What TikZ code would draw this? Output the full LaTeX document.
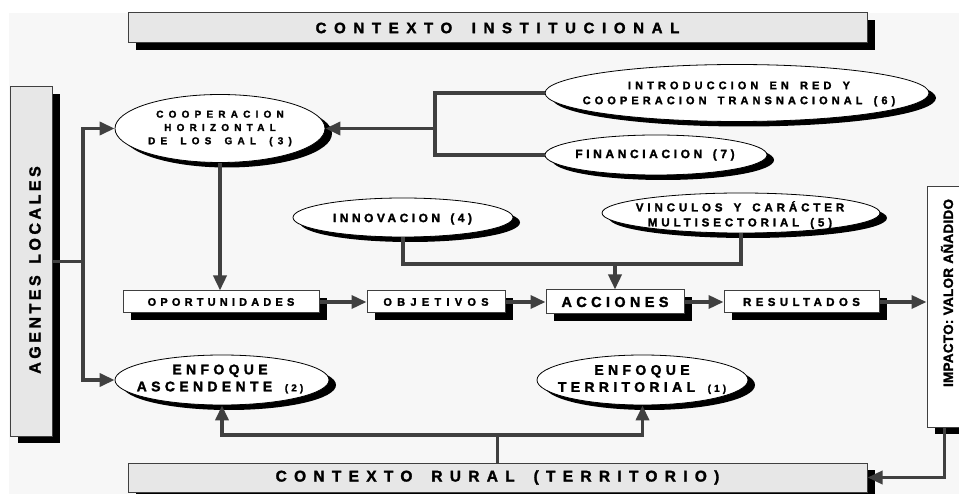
\documentclass[tikz,border=0pt]{standalone}
\usepackage{fontspec}
\setmainfont{Liberation Sans}
\usetikzlibrary{shapes.geometric,shadows,arrows.meta}

\definecolor{paper}{RGB}{247,247,247}
\definecolor{panel}{RGB}{231,231,231}
\definecolor{wire}{RGB}{64,64,64}

% heavy, sized and letter spaced text (word space grows with the letter space)
\newcommand\tracked[3]{\bfseries\fontsize{#1}{#2}\selectfont
  \addfontfeature{LetterSpace=#3,FakeBold=1.8}%
  \spaceskip=\dimexpr\fontdimen2\font+\fontdimen6\font*#3/100\relax}

\tikzset{
  shade box/.style={drop shadow={shadow xshift=8pt,shadow yshift=-7pt,fill=black,opacity=1}},
  panel box/.style={shade box,draw=wire,line width=1pt,fill=panel,inner sep=0pt},
  stage box/.style={shade box,draw=wire,line width=1pt,fill=white,inner sep=0pt,minimum height=22pt},
  bubble/.style={ellipse,draw=black,line width=0.8pt,fill=white,inner sep=0pt,
    drop shadow={shadow xshift=7pt,shadow yshift=-5pt,fill=black,opacity=1}},
  conn/.style={draw=wire,line width=3.5pt},
  conn arrow/.style={conn,-{Triangle[length=15pt,width=13pt]}},
}

\begin{document}
\begin{tikzpicture}[x=1pt,y=-1pt]

\useasboundingbox (0,0) rectangle (959,494);
\fill[paper] (9,13) rectangle (959,494);

% frames round the scheme
\node[panel box,minimum width=739pt,minimum height=30pt,font=\tracked{15}{18}{51}] (inst) at (497.5,28) {CONTEXTO INSTITUCIONAL};
\node[panel box,minimum width=739pt,minimum height=29pt,font=\tracked{15.5}{18}{47}] (rural) at (497.5,477.5) {CONTEXTO RURAL (TERRITORIO)};

\node[panel box,minimum width=42pt,minimum height=349pt] (agentes) at (31,261.5) {};
\node[font=\tracked{16}{18}{22},rotate=90] (agentes-t) at (35,270) {AGENTES LOCALES};

\node[stage box,minimum width=35pt,minimum height=240pt] (impacto) at (944.5,307) {};
\node[font=\tracked{13.5}{16}{2},rotate=90] (impacto-t) at (947,293) {IMPACTO: VALOR AÑADIDO};

% the chain
\node[stage box,minimum width=196pt,font=\tracked{11}{13}{38}] (oport) at (221,302) {OPORTUNIDADES};
\node[stage box,minimum width=138pt,font=\tracked{11}{13}{48}] (objet) at (436,302) {OBJETIVOS};
\node[stage box,minimum width=138pt,minimum height=24pt,font=\tracked{14.5}{16}{30}] (accion) at (615,302) {ACCIONES};
\node[stage box,minimum width=155pt,font=\tracked{11.5}{13}{38}] (result) at (801.5,302) {RESULTADOS};

% the seven features
\node[bubble,minimum width=210pt,minimum height=68pt] (coop) at (220,128.5) {};
\node[font=\tracked{10}{13.3}{52},align=center] (coop-t) at (220,128.5) {COOPERACION\\HORIZONTAL\\DE LOS GAL (3)};

\node[bubble,minimum width=384pt,minimum height=57pt] (intro) at (737,93) {};
\node[font=\tracked{11}{15}{37},align=center] (intro-t) at (739,94) {INTRODUCCION EN RED Y\\COOPERACION TRANSNACIONAL (6)};

\node[bubble,minimum width=222pt,minimum height=40pt] (finan) at (656,155) {};
\node[font=\tracked{12}{14}{30}] (finan-t) at (655,155) {FINANCIACION (7)};

\node[bubble,minimum width=220pt,minimum height=39pt] (innov) at (403,217.5) {};
\node[font=\tracked{12}{14}{29}] (innov-t) at (402.5,219) {INNOVACION (4)};

\node[bubble,minimum width=278pt,minimum height=40pt] (vinc) at (741,213) {};
\node[font=\tracked{11.5}{15}{34},align=center] (vinc-t) at (740,215) {VINCULOS Y CARÁCTER\\MULTISECTORIAL (5)};

\node[bubble,minimum width=214pt,minimum height=50pt] (asc) at (222,380) {};
\node[font=\tracked{14}{17}{31},align=center] (asc-t) at (220,379) {ENFOQUE\\ASCENDENTE {\fontsize{10}{17}\selectfont(2)}};

\node[bubble,minimum width=211pt,minimum height=50pt] (terr) at (642.5,380) {};
\node[font=\tracked{14}{17}{31},align=center] (terr-t) at (642,379.5) {ENFOQUE\\TERRITORIAL {\fontsize{10}{17}\selectfont(1)}};

% junctions
\coordinate (trunk) at (83,261.5);
\coordinate (hub) at (435,128.5);
\coordinate (merge) at (615,264);
\coordinate (split) at (497.5,435);

% connectors
\draw[conn] (agentes.east) -- (trunk);
\draw[conn arrow] (trunk) |- (coop.west);
\draw[conn arrow] (trunk) |- (asc.west);

\draw[conn] (intro.west) -| (hub);
\draw[conn] (finan.west) -| (hub);
\draw[conn arrow] (hub) -- (coop.east);

\draw[conn arrow] (coop.south) -- (coop.south |- oport.north);
\draw[conn] (innov.south) |- (merge);
\draw[conn] (vinc.south) |- (merge);
\draw[conn arrow] (merge) -- (accion.north);

\draw[conn arrow] (oport) -- (objet);
\draw[conn arrow] (objet) -- (accion);
\draw[conn arrow] (accion) -- (result);
\draw[conn arrow] (result.east) -- (result.east -| impacto.west);

\draw[conn arrow] (impacto.south) |- (rural.east);
\draw[conn] (rural.north) -- (split);
\draw[conn arrow] (split) -| (asc.south);
\draw[conn arrow] (split) -| (terr.south);

\end{tikzpicture}
\end{document}
